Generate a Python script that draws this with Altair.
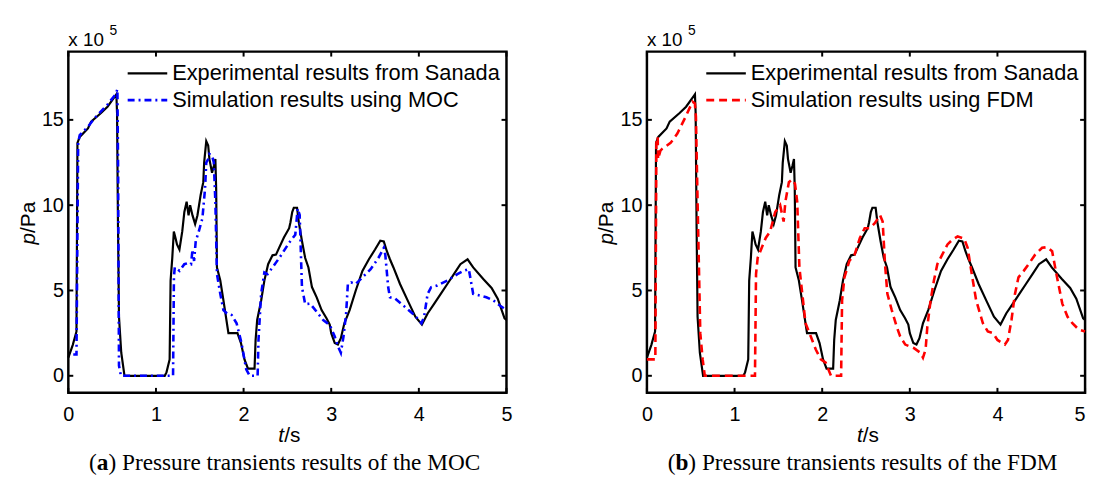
import altair as alt
import pandas as pd

# ---------------- data ----------------
X_TICKS = [0, 1, 2, 3, 4, 5]
Y_TICKS = [0, 5, 10, 15]

T_EXP = [0.0, 0.05, 0.093, 0.104, 0.13, 0.224, 0.26, 0.373, 0.447, 0.54, 0.548, 0.556, 0.567, 0.578,
         0.604, 0.641, 1.10, 1.12, 1.156, 1.167, 1.186, 1.204, 1.223, 1.24, 1.268, 1.30, 1.324, 1.35,
         1.372, 1.39, 1.417, 1.447, 1.473, 1.51, 1.54, 1.55, 1.574, 1.596, 1.61, 1.64, 1.66, 1.678,
         1.687, 1.696, 1.734, 1.77, 1.827, 1.93, 1.97, 2.01, 2.05, 2.125, 2.137, 2.155, 2.20, 2.237,
         2.28, 2.33, 2.37, 2.405, 2.46, 2.52, 2.535, 2.555, 2.573, 2.61, 2.63, 2.666, 2.703, 2.74,
         2.78, 2.834, 2.89, 2.946, 2.983, 3.0, 3.04, 3.076, 3.11, 3.15, 3.21, 3.28, 3.356, 3.43, 3.50,
         3.56, 3.60, 3.635, 3.67, 3.71, 3.785, 3.88, 3.96, 4.035, 4.10, 4.176, 4.25, 4.325, 4.40,
         4.474, 4.556, 4.62, 4.735, 4.83, 4.90, 4.978, 5.0]
P_EXP = [1.06, 1.8, 2.6, 13.65, 14.0, 14.5, 14.9, 15.4, 15.77, 16.44, 16.5, 15.4, 8.65, 3.46,
         1.35, 0.0, 0.0, 0.2, 0.96, 5.58, 6.9, 8.46, 8.08, 7.7, 7.4, 8.46, 9.6, 10.2,
         9.4, 10.0, 9.4, 8.9, 9.4, 10.6, 11.35, 12.5, 13.75, 13.5, 12.7, 11.9, 12.3, 12.7,
         10.96, 6.35, 5.58, 4.42, 2.5, 2.5, 1.92, 0.96, 0.42, 0.42, 2.1, 3.27, 4.4, 5.58,
         6.54, 7.06, 7.1, 7.5, 8.1, 8.65, 9.0, 9.6, 9.85, 9.85, 9.0, 7.9, 6.9, 6.35,
         5.2, 4.6, 3.85, 3.37, 3.0, 2.5, 1.92, 1.83, 2.2, 3.08, 3.85, 5.0, 6.15, 6.83, 7.4,
         7.92, 7.88, 7.3, 6.83, 6.35, 5.38, 4.33, 3.46, 3.0, 3.65, 4.23, 4.8, 5.38, 5.96,
         6.54, 6.83, 6.35, 5.67, 5.15, 4.52, 3.37, 3.27]

T_MOC = [0.056, 0.093, 0.112, 0.13, 0.224, 0.30, 0.373, 0.447, 0.54, 0.56, 0.568, 0.578, 0.60,
         1.175, 1.195, 1.205, 1.215, 1.27, 1.324, 1.36, 1.40, 1.417, 1.435, 1.454, 1.484, 1.53,
         1.56, 1.574, 1.596, 1.61, 1.64, 1.66, 1.678, 1.696, 1.734, 1.77, 1.81, 1.864, 1.92,
         1.976, 2.03, 2.07, 2.16, 2.17, 2.20, 2.237, 2.274, 2.33, 2.42, 2.52, 2.59, 2.617, 2.64,
         2.666, 2.703, 2.76, 2.834, 2.908, 2.983, 3.04, 3.076, 3.11, 3.14, 3.17, 3.19, 3.226,
         3.28, 3.356, 3.45, 3.54, 3.60, 3.617, 3.65, 3.67, 3.73, 3.84, 3.95, 4.03, 4.06, 4.10,
         4.14, 4.21, 4.325, 4.44, 4.51, 4.57, 4.62, 4.70, 4.77, 4.85, 4.92, 5.0]
P_MOC = [1.25, 1.25, 13.65, 14.1, 14.6, 15.1, 15.5, 15.9, 16.5, 16.8, 12.0, 0.6, 0.0,
         0.0, 0.0, 5.8, 6.35, 6.15, 6.54, 6.6, 6.54, 7.4, 6.73, 7.9, 8.37, 9.23,
         10.96, 12.5, 12.7, 13.0, 12.9, 12.5, 10.2, 5.96, 4.8, 3.85, 3.65, 3.56, 3.08,
         1.92, 0.38, 0.0, 0.0, 2.1, 4.8, 6.06, 5.96, 6.35, 7.0, 7.8, 8.27, 9.8, 9.42,
         5.2, 4.2, 4.23, 3.75, 3.27, 2.98, 2.3, 1.73, 1.35, 2.3, 3.65, 5.38, 5.48,
         5.38, 5.77, 6.25, 6.92, 7.5, 7.1, 5.2, 4.6, 4.52, 4.04, 3.56, 3.08, 3.46, 4.8,
         5.19, 5.29, 5.58, 5.96, 6.15, 6.25, 4.8, 4.7, 4.6, 4.42, 4.13, 3.85]

T_FDM = [0.0, 0.096, 0.108, 0.123, 0.127, 0.154, 0.173, 0.27, 0.347, 0.443, 0.52, 0.547, 0.559,
         0.578, 0.609, 0.636, 0.66, 1.233, 1.245, 1.264, 1.31, 1.356, 1.406, 1.464, 1.52, 1.56,
         1.58, 1.62, 1.657, 1.69, 1.715, 1.74, 1.773, 1.81, 1.87, 1.927, 1.985, 2.04, 2.10,
         2.216, 2.227, 2.254, 2.31, 2.37, 2.43, 2.485, 2.543, 2.60, 2.66, 2.69, 2.717, 2.744,
         2.794, 2.85, 2.89, 2.948, 3.044, 3.12, 3.15, 3.18, 3.20, 3.237, 3.275, 3.314, 3.37,
         3.43, 3.487, 3.545, 3.62, 3.66, 3.707, 3.757, 3.834, 3.89, 3.95, 4.0, 4.085, 4.12,
         4.16, 4.20, 4.24, 4.30, 4.355, 4.43, 4.51, 4.566, 4.624, 4.68, 4.74, 4.80, 4.855,
         4.93, 5.0]
P_FDM = [0.96, 0.96, 13.65, 14.0, 12.7, 13.2, 13.3, 13.65, 14.2, 15.2, 16.06, 15.96, 15.2,
         10.2, 2.5, 0.96, 0.0, 0.0, 5.96, 6.92, 7.5, 8.08, 8.46, 9.6, 10.0, 9.04,
         10.2, 11.35, 11.5, 11.25, 10.2, 6.35, 4.8, 3.08, 2.3, 1.54, 0.96, 0.77, 0.0,
         0.0, 4.42, 5.77, 6.73, 7.1, 8.08, 8.65, 8.65, 8.94, 9.42, 9.04, 6.54, 4.8,
         3.85, 2.88, 2.3, 1.83, 1.63, 1.35, 1.06, 1.54, 2.88, 4.42, 5.58, 6.54, 7.1,
         7.7, 7.98, 8.17, 8.04, 7.5, 5.96, 4.42, 3.08, 2.6, 2.5, 2.1, 1.83, 2.1,
         3.27, 4.8, 5.77, 6.15, 6.54, 7.1, 7.5, 7.54, 7.3, 5.77, 4.23, 3.46, 3.08,
         2.7, 2.6]

EXP_LABEL = "Experimental results from Sanada"
MOC_LABEL = "Simulation results using MOC"
FDM_LABEL = "Simulation results using FDM"
CAPTION_TEXT = " Pressure transients results of the "

# ---------------- styling ----------------
W, H = 443, 345
SANS = "Liberation Sans"
SERIF = "Liberation Serif"
DUMMY = pd.DataFrame({"d": [0]})

xs = alt.Scale(domain=[0, 5], nice=False, zero=False)
ys = alt.Scale(domain=[-1, 19], nice=False, zero=False)


def series_df(t, p):
    return pd.DataFrame({"t": t, "p": p, "i": list(range(len(t)))})


def txt(s, x, y, size, font=SANS, style="normal", weight="normal", align="left",
        baseline="alphabetic", angle=0):
    return alt.Chart(DUMMY).mark_text(
        text=s, font=font, fontSize=size, fontStyle=style, fontWeight=weight,
        align=align, baseline=baseline, angle=angle, color="black"
    ).encode(x=alt.value(x), y=alt.value(y))


def panel(sim_t, sim_p, sim_label, sim_color, sim_dash, letter, method, right):
    if right:
        label_align = {"condition": {"test": "datum.value == 5", "value": "right"},
                       "value": "center"}
    else:
        label_align = "center"
    x_axis = alt.Axis(values=X_TICKS, title=None, grid=False, domain=False, ticks=False,
                      tickSize=0, labelPadding=12, labelFontSize=20, labelFont=SANS,
                      labelColor="black", labelAlign=label_align, labelBaseline="top")
    y_axis = alt.Axis(values=Y_TICKS, title=None, grid=False, domain=False, ticks=False,
                      tickSize=0, labelPadding=5, labelFontSize=20, labelFont=SANS,
                      labelColor="black")

    exp_line = alt.Chart(series_df(T_EXP, P_EXP)).mark_line(
        color="black", strokeWidth=2.2).encode(
        x=alt.X("t:Q", scale=xs, axis=x_axis),
        y=alt.Y("p:Q", scale=ys, axis=y_axis),
        order="i:Q")
    sim_line = alt.Chart(series_df(sim_t, sim_p)).mark_line(
        color=sim_color, strokeWidth=2.6, strokeDash=sim_dash).encode(
        x=alt.X("t:Q", scale=xs, axis=x_axis),
        y=alt.Y("p:Q", scale=ys, axis=y_axis),
        order="i:Q")

    tx = pd.DataFrame({"t": X_TICKS})
    ty = pd.DataFrame({"p": Y_TICKS})
    tick_b = alt.Chart(tx).mark_rule(color="black", strokeWidth=2).encode(
        x=alt.X("t:Q", scale=xs, axis=x_axis), y=alt.value(H), y2=alt.value(H - 5))
    tick_t = alt.Chart(tx).mark_rule(color="black", strokeWidth=2).encode(
        x=alt.X("t:Q", scale=xs, axis=x_axis), y=alt.value(0), y2=alt.value(5))
    tick_l = alt.Chart(ty).mark_rule(color="black", strokeWidth=2).encode(
        y=alt.Y("p:Q", scale=ys, axis=y_axis), x=alt.value(0), x2=alt.value(5))
    tick_r = alt.Chart(ty).mark_rule(color="black", strokeWidth=2).encode(
        y=alt.Y("p:Q", scale=ys, axis=y_axis), x=alt.value(W - 5), x2=alt.value(W))

    # legend (manual)
    leg1 = alt.Chart(DUMMY).mark_rule(color="black", strokeWidth=2.2).encode(
        x=alt.value(60), x2=alt.value(100), y=alt.value(22))
    leg2 = alt.Chart(DUMMY).mark_rule(color=sim_color, strokeWidth=2.6, strokeDash=sim_dash).encode(
        x=alt.value(60), x2=alt.value(100), y=alt.value(49))
    leg1t = txt(EXP_LABEL, 105, 22, 22, baseline="middle")
    leg2t = txt(sim_label, 105, 49, 22, baseline="middle")

    # multiplier "x 10^5"
    mult = txt("x 10", 0, -5.5, 19)
    mult_exp = txt("5", 41.5, -16.5, 14)

    # axis titles
    yt1 = txt("p", -40, 195, 21, style="italic", baseline="middle", angle=270)
    yt2 = txt("/Pa", -40, 183.3, 21, baseline="middle", angle=270)
    xt1 = txt("t", 218.2, 395, 21, style="italic", align="right")
    xt2 = txt("/s", 218.2, 395, 21)

    # caption
    cx = 21
    fs = 23.5
    cy = 423.5
    cap1 = txt("(", cx, cy, fs, font=SERIF)
    cap2 = txt(letter, cx + 0.333 * fs, cy, fs, font=SERIF, weight="bold")
    lw = (0.5 if letter == "a" else 0.556) * fs
    cap3 = txt(")" + CAPTION_TEXT + method, cx + 0.333 * fs + lw, cy, fs, font=SERIF)

    return alt.layer(
        exp_line, sim_line, tick_b, tick_t, tick_l, tick_r,
        leg1, leg2, leg1t, leg2t, mult, mult_exp, yt1, yt2, xt1, xt2, cap1, cap2, cap3
    ).properties(width=W, height=H)


left = panel(T_MOC, P_MOC, MOC_LABEL, "#0000ff", [7, 4, 2, 4], "a", "MOC", right=False)
right = panel(T_FDM, P_FDM, FDM_LABEL, "#ff0000", [8, 5], "b", "FDM", right=True)

chart = alt.hconcat(left, right, spacing=82).properties(
    padding={"left": 8, "top": 12.5, "right": 0, "bottom": 0},
    background="white"
).configure_view(stroke="black", strokeWidth=2.5)

chart.save("out.html", embed_options={"renderer": "svg", "actions": False})
